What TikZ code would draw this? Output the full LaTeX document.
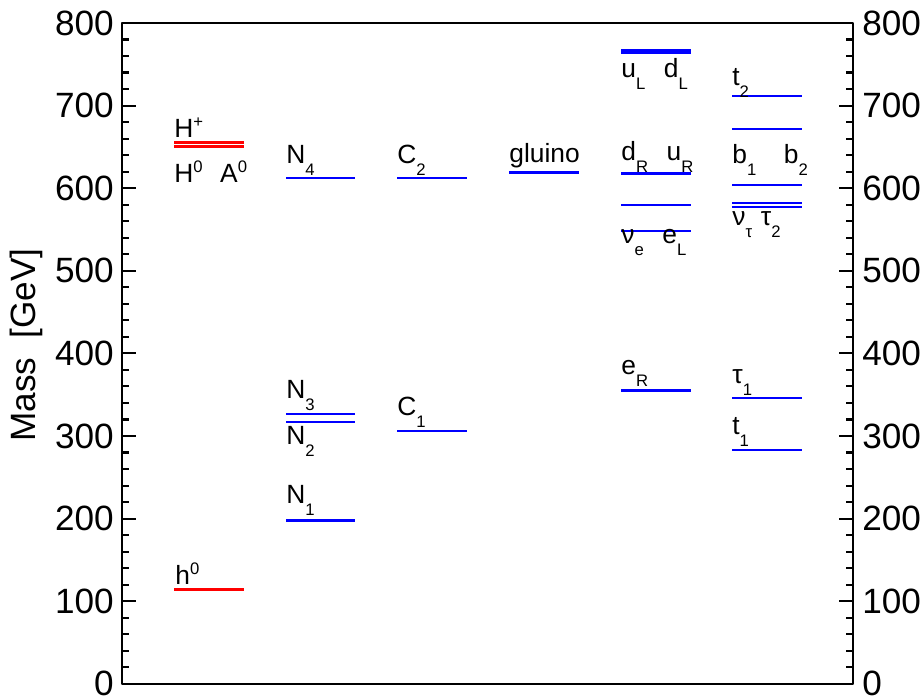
\documentclass[tikz,border=0pt]{standalone}
\usepackage{fontspec}
\setmainfont{Liberation Sans}
\usepackage{tikz}

\newcommand{\tickfont}{\fontsize{20}{24}\selectfont}
\newcommand{\lvlfont}{\fontsize{15}{18}\selectfont}
\newcommand{\sublab}[1]{\raisebox{-6.8pt}{\fontsize{9.5}{9.5}\selectfont #1}}
\newcommand{\suplab}[1]{\raisebox{5.6pt}{\fontsize{9.5}{9.5}\selectfont #1}}

\begin{document}
\begin{tikzpicture}[line cap=butt,line join=round,x=0.02cm,y=0.01652cm]
\useasboundingbox (0,-19.4) rectangle (924,827.8);
% frame and ticks
\draw [line width=1.2pt] (122,0) rectangle (853,800);
\foreach \m in {0,20,...,800} {
  \draw [line width=1.2pt] (122,\m)-- (129,\m);
  \draw [line width=1.2pt] (853,\m)-- (846,\m);
}
\foreach \m in {0,100,...,800} {
  \draw [line width=1.2pt] (122,\m)-- (136,\m);
  \draw [line width=1.2pt] (853,\m)-- (839,\m);
  \draw (114,\m) node[anchor=east,inner sep=0pt] {\tickfont \m};
  \draw (862,\m) node[anchor=west,inner sep=0pt] {\tickfont \m};
}
\draw (26,410) node[rotate=90,inner sep=0pt] {\tickfont Mass\ \ [GeV]};

% higgs
\draw [line width=1.3pt,red] (174,655.3)-- (244,655.3);
\draw [line width=1.3pt,red] (174,650.5)-- (244,650.5);
\draw [line width=1.3pt,red] (174,114.2)-- (244,114.2);
% neutralinos
\draw [line width=1.3pt,blue] (286,612.)-- (355,612.);
\draw [line width=1.3pt,blue] (286,326.5)-- (355,326.5);
\draw [line width=1.3pt,blue] (286,316.8)-- (355,316.8);
\draw [line width=1.3pt,blue] (286,197.7)-- (355,197.7);
% charginos
\draw [line width=1.3pt,blue] (397,612.)-- (467,612.);
\draw [line width=1.3pt,blue] (397,306.3)-- (467,306.3);
% gluino
\draw [line width=1.3pt,blue] (509,619.)-- (579,619.);
% first generation
\draw [line width=1.3pt,blue] (621,766.8)-- (691,766.8);
\draw [line width=1.3pt,blue] (621,764.)-- (691,764.);
\draw [line width=1.3pt,blue] (621,618.2)-- (691,618.2);
\draw [line width=1.3pt,blue] (621,617.)-- (691,617.);
\draw [line width=1.3pt,blue] (621,579.5)-- (691,579.5);
\draw [line width=1.3pt,blue] (621,548.4)-- (691,548.4);
\draw [line width=1.3pt,blue] (621,355.1)-- (691,355.1);
% third generation
\draw [line width=1.3pt,blue] (732,711.5)-- (802,711.5);
\draw [line width=1.3pt,blue] (732,671.5)-- (802,671.5);
\draw [line width=1.3pt,blue] (732,603.7)-- (802,603.7);
\draw [line width=1.3pt,blue] (732,582.3)-- (802,582.3);
\draw [line width=1.3pt,blue] (732,577.)-- (802,577.);
\draw [line width=1.3pt,blue] (732,345.8)-- (802,345.8);
\draw [line width=1.3pt,blue] (732,283.3)-- (802,283.3);

\tikzset{every node/.append style={inner sep=0pt}}
\draw (174,661.9) node[anchor=base west] {\lvlfont H\suplab{+}};
\draw (174,606.9) node[anchor=base west] {\lvlfont H\suplab{0}\hspace{10pt}A\suplab{0}};
\draw (175,119.9) node[anchor=base west] {\lvlfont h\suplab{0}};
\draw (286,629.5) node[anchor=base west] {\lvlfont N\sublab{4}};
\draw (286,345.) node[anchor=base west] {\lvlfont N\sublab{3}};
\draw (286,289.3) node[anchor=base west] {\lvlfont N\sublab{2}};
\draw (286,217.9) node[anchor=base west] {\lvlfont N\sublab{1}};
\draw (397,629.5) node[anchor=base west] {\lvlfont C\sublab{2}};
\draw (397,324.5) node[anchor=base west] {\lvlfont C\sublab{1}};
\draw (509,631.1) node[anchor=base west] {\lvlfont gluino};
\draw (621,734.5) node[anchor=base west] {\lvlfont u\sublab{L}\hspace{10.6pt}d\sublab{L}};
\draw (621,633.2) node[anchor=base west] {\lvlfont d\sublab{R}\hspace{10.6pt}u\sublab{R}};
\draw (621,532.7) node[anchor=base west] {\lvlfont ν\sublab{e}\hspace{10.6pt}e\sublab{L}};
\draw (621,374.1) node[anchor=base west] {\lvlfont e\sublab{R}};
\draw (732,724.) node[anchor=base west] {\lvlfont t\sublab{2}};
\draw (732,630.4) node[anchor=base west] {\lvlfont b\sublab{1}\hspace{15.7pt}b\sublab{2}};
\draw (732,555.3) node[anchor=base west] {\lvlfont ν\sublab{τ}\hspace{5pt}τ\sublab{2}};
\draw (732,364.) node[anchor=base west] {\lvlfont τ\sublab{1}};
\draw (732,301.5) node[anchor=base west] {\lvlfont t\sublab{1}};
\end{tikzpicture}
\end{document}
